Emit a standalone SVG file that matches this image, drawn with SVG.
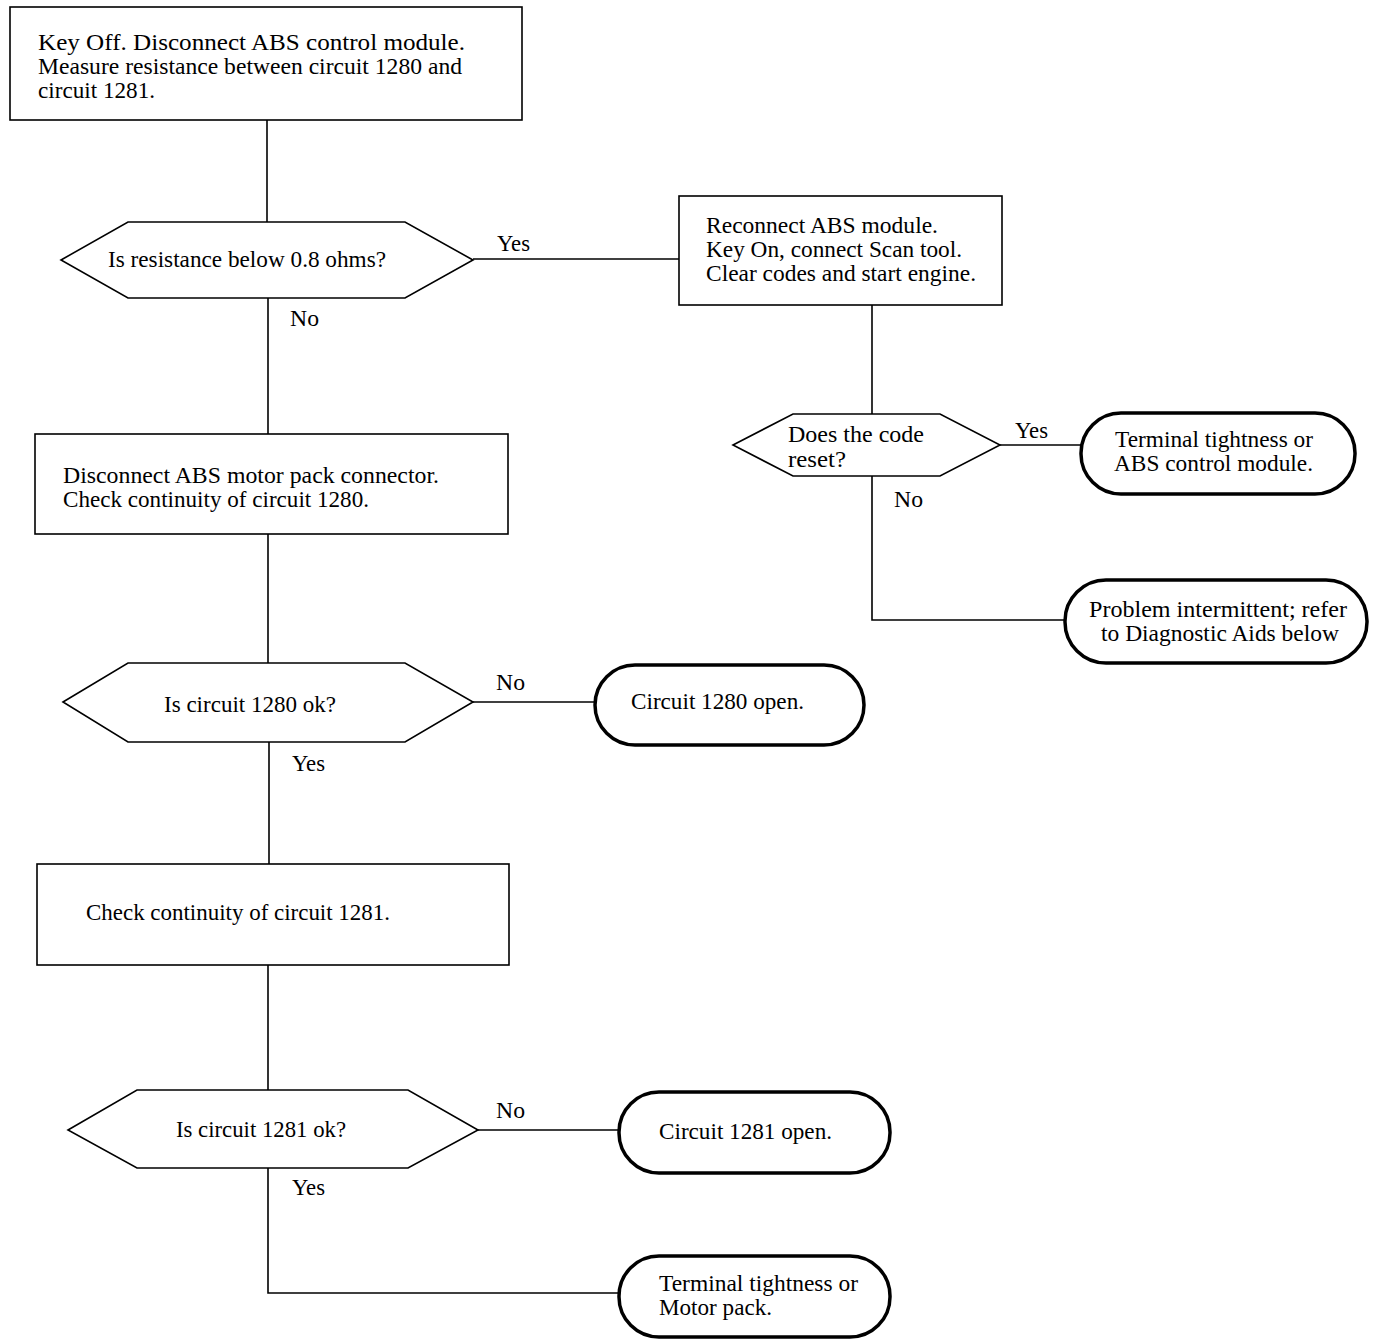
<svg xmlns="http://www.w3.org/2000/svg" width="1376" height="1344" viewBox="0 0 1376 1344">
<style>
.box{fill:#fff;stroke:#000;stroke-width:1.6}
.hex{fill:#fff;stroke:#000;stroke-width:1.6}
.term{fill:#fff;stroke:#000;stroke-width:3.5}
.ln{fill:none;stroke:#000;stroke-width:1.6}
text{font-family:"Liberation Serif","Times New Roman",serif;font-size:23px;fill:#000}
</style>
<rect width="1376" height="1344" fill="#fff"/>
<g id="connectors">
<polyline class="ln" points="267,120 267,222"/>
<polyline class="ln" points="268,298 268,434"/>
<polyline class="ln" points="473,259 679,259"/>
<polyline class="ln" points="872,305 872,414"/>
<polyline class="ln" points="1000,445 1081,445"/>
<polyline class="ln" points="872,476 872,620 1065,620"/>
<polyline class="ln" points="268,534 268,663"/>
<polyline class="ln" points="473,702 595,702"/>
<polyline class="ln" points="269,742 269,864"/>
<polyline class="ln" points="268,965 268,1090"/>
<polyline class="ln" points="478,1130 619,1130"/>
<polyline class="ln" points="268,1168 268,1293 619,1293"/>
<text x="497" y="251" textLength="33" lengthAdjust="spacingAndGlyphs">Yes</text>
<text x="290" y="326" textLength="29" lengthAdjust="spacingAndGlyphs">No</text>
<text x="1015" y="438" textLength="33" lengthAdjust="spacingAndGlyphs">Yes</text>
<text x="894" y="507" textLength="29" lengthAdjust="spacingAndGlyphs">No</text>
<text x="496" y="690" textLength="29" lengthAdjust="spacingAndGlyphs">No</text>
<text x="292" y="771" textLength="33" lengthAdjust="spacingAndGlyphs">Yes</text>
<text x="496" y="1118" textLength="29" lengthAdjust="spacingAndGlyphs">No</text>
<text x="292" y="1195" textLength="33" lengthAdjust="spacingAndGlyphs">Yes</text>
</g>
<g id="n1">
<rect class="box" x="10" y="7" width="512" height="113"/>
<text x="38" y="50" textLength="427" lengthAdjust="spacingAndGlyphs">Key Off. Disconnect ABS control module.</text>
<text x="38" y="74" textLength="424" lengthAdjust="spacingAndGlyphs">Measure resistance between circuit 1280 and</text>
<text x="38" y="98" textLength="117" lengthAdjust="spacingAndGlyphs">circuit 1281.</text>
</g>
<g id="d1">
<polygon class="hex" points="61,260 128,222 405,222 473,260 405,298 128,298"/>
<text x="108" y="267" textLength="278" lengthAdjust="spacingAndGlyphs">Is resistance below 0.8 ohms?</text>
</g>
<g id="n2">
<rect class="box" x="679" y="196" width="323" height="109"/>
<text x="706" y="233" textLength="232" lengthAdjust="spacingAndGlyphs">Reconnect ABS module.</text>
<text x="706" y="257" textLength="256" lengthAdjust="spacingAndGlyphs">Key On, connect Scan tool.</text>
<text x="706" y="281" textLength="270" lengthAdjust="spacingAndGlyphs">Clear codes and start engine.</text>
</g>
<g id="d2">
<polygon class="hex" points="733,445 793,414 940,414 1000,445 940,476 793,476"/>
<text x="788" y="442" textLength="136" lengthAdjust="spacingAndGlyphs">Does the code</text>
<text x="788" y="467" textLength="58" lengthAdjust="spacingAndGlyphs">reset?</text>
</g>
<g id="t1">
<rect class="term" x="1081" y="413" width="274" height="81" rx="40" ry="40"/>
<text x="1115" y="447" textLength="198" lengthAdjust="spacingAndGlyphs">Terminal tightness or</text>
<text x="1114" y="471" textLength="199" lengthAdjust="spacingAndGlyphs">ABS control module.</text>
</g>
<g id="t2">
<rect class="term" x="1065" y="580" width="302" height="83" rx="41" ry="41"/>
<text x="1089" y="617" textLength="258" lengthAdjust="spacingAndGlyphs">Problem intermittent; refer</text>
<text x="1101" y="641" textLength="238" lengthAdjust="spacingAndGlyphs">to Diagnostic Aids below</text>
</g>
<g id="n3">
<rect class="box" x="35" y="434" width="473" height="100"/>
<text x="63" y="483" textLength="376" lengthAdjust="spacingAndGlyphs">Disconnect ABS motor pack connector.</text>
<text x="63" y="507" textLength="306" lengthAdjust="spacingAndGlyphs">Check continuity of circuit 1280.</text>
</g>
<g id="d3">
<polygon class="hex" points="63,702 128,663 405,663 473,702 405,742 128,742"/>
<text x="164" y="712" textLength="172" lengthAdjust="spacingAndGlyphs">Is circuit 1280 ok?</text>
</g>
<g id="t3">
<rect class="term" x="595" y="665" width="269" height="80" rx="40" ry="40"/>
<text x="631" y="709" textLength="173" lengthAdjust="spacingAndGlyphs">Circuit 1280 open.</text>
</g>
<g id="n4">
<rect class="box" x="37" y="864" width="472" height="101"/>
<text x="86" y="920" textLength="304" lengthAdjust="spacingAndGlyphs">Check continuity of circuit 1281.</text>
</g>
<g id="d4">
<polygon class="hex" points="68,1130 137,1090 408,1090 478,1130 408,1168 137,1168"/>
<text x="176" y="1137" textLength="170" lengthAdjust="spacingAndGlyphs">Is circuit 1281 ok?</text>
</g>
<g id="t4">
<rect class="term" x="619" y="1092" width="271" height="81" rx="40" ry="40"/>
<text x="659" y="1139" textLength="173" lengthAdjust="spacingAndGlyphs">Circuit 1281 open.</text>
</g>
<g id="t5">
<rect class="term" x="619" y="1256" width="271" height="81" rx="40" ry="40"/>
<text x="659" y="1291" textLength="199" lengthAdjust="spacingAndGlyphs">Terminal tightness or</text>
<text x="659" y="1315" textLength="113" lengthAdjust="spacingAndGlyphs">Motor pack.</text>
</g>
</svg>
